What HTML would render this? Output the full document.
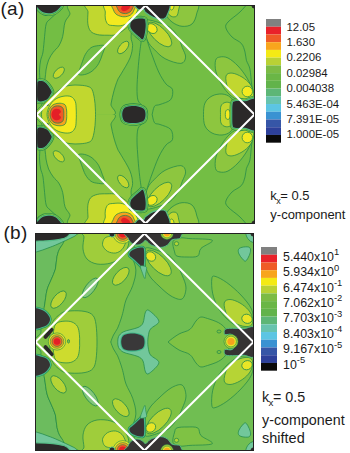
<!DOCTYPE html>
<html><head><meta charset="utf-8">
<style>
html,body{margin:0;padding:0;background:#fff;}
body{width:350px;height:453px;overflow:hidden;position:relative;}
svg{position:absolute;left:0;top:0;}
text{font-family:"Liberation Sans",sans-serif;fill:#1a1a1a;}
</style></head>
<body>
<svg width="350" height="453" viewBox="0 0 350 453">
<defs>
  <clipPath id="ca"><rect x="36" y="5" width="219" height="219"/></clipPath>
  <clipPath id="caT"><rect x="30" y="0" width="230" height="114.5"/></clipPath>
  <clipPath id="cbT"><rect x="30" y="0" width="230" height="114"/></clipPath>
  <clipPath id="cb"><rect x="35" y="233" width="219" height="218"/></clipPath>
</defs>
<rect width="350" height="453" fill="#fff"/>

<!-- labels -->
<text x="0.4" y="15.0" font-size="19" letter-spacing="0.4">(a)</text>
<text x="3.4" y="239.3" font-size="19" letter-spacing="0.4">(b)</text>

<!-- PLOT A -->
<g clip-path="url(#ca)">
<g>
<rect x="30" y="0" width="230" height="230" fill="#73be44"/>
<g id="aTop" clip-path="url(#caT)"><path d="M73.0 3.0 C61.8 4.9 71.1 11.2 69.8 14.4 C68.5 17.6 66.2 18.6 65.0 22.3 C63.8 26.0 63.7 32.5 62.7 36.4 C61.7 40.3 60.4 43.3 58.8 45.9 C57.2 48.5 55.0 49.8 53.3 52.1 C51.6 54.5 49.8 57.0 48.6 60.0 C47.4 63.0 46.6 66.8 46.0 70.0 C45.4 73.2 45.8 75.7 45.0 79.0 C44.2 82.3 41.5 85.8 41.0 90.0 C40.5 94.2 42.3 99.7 42.0 104.0 C41.7 108.3 27.7 114.0 39.0 116.0 C50.3 118.0 98.0 118.0 110.0 116.0 C122.0 114.0 110.3 108.2 111.0 104.1 C111.7 99.9 112.8 95.1 113.9 91.1 C115.0 87.1 116.4 82.9 117.6 80.0 C118.8 77.1 119.1 77.5 121.2 73.8 C123.3 70.1 128.1 62.7 130.0 58.0 C131.9 53.3 132.4 49.1 132.6 45.6 C132.8 42.1 130.9 40.9 131.0 37.0 C131.1 33.1 132.0 27.7 133.0 22.0 C134.0 16.3 147.0 6.2 137.0 3.0 C127.0 -0.2 84.2 1.1 73.0 3.0Z" fill="#8dc63f" stroke="#23894a" stroke-width="0.75"/>
<path d="M58.0 12.0 C56.7 13.2 52.1 17.1 50.1 19.1 C48.1 21.1 47.1 21.0 46.2 23.9 C45.3 26.8 45.1 31.7 44.6 36.4 C44.1 41.1 43.6 48.1 43.0 52.0 C42.4 55.9 41.3 57.0 40.7 60.0 C40.1 63.0 39.6 66.7 39.5 70.0 C39.4 73.3 39.9 78.3 40.0 80.0" fill="none" stroke="#23894a" stroke-width="0.75"/>
<path d="M141.5 39.4 C141.2 41.6 140.3 47.5 139.7 52.6 C139.1 57.8 138.4 64.4 138.0 70.3 C137.6 76.2 137.0 83.0 137.0 88.0 C137.0 93.0 137.1 97.4 138.0 100.3 C138.9 103.2 141.7 104.7 142.4 105.6" fill="none" stroke="#23894a" stroke-width="0.75"/>
<path d="M146.8 39.4 C147.5 41.6 149.2 47.2 151.2 52.6 C153.2 58.0 156.2 66.8 158.7 72.0 C161.2 77.2 163.7 81.1 166.0 84.0 C168.3 86.9 171.6 86.7 172.4 89.3 C173.2 91.9 172.8 97.1 170.7 99.6 C168.6 102.1 162.7 103.4 160.0 104.5 C157.3 105.6 155.8 104.5 154.4 106.4 C153.1 108.3 152.3 114.4 151.9 116.0" fill="none" stroke="#23894a" stroke-width="0.75"/>
<path d="M248.0 3.0 C246.7 4.5 243.3 8.8 240.0 12.0 C236.7 15.2 230.3 19.3 228.0 22.0 C225.7 24.7 225.2 25.5 225.9 28.0 C226.6 30.5 229.4 34.4 232.0 37.0 C234.6 39.6 239.1 40.9 241.3 43.4 C243.5 45.9 244.2 49.2 245.0 52.0 C245.8 54.8 245.6 57.5 246.4 60.3 C247.2 63.1 249.0 64.9 249.9 68.9 C250.8 72.9 251.0 80.3 251.6 84.3 C252.2 88.3 253.0 91.5 253.3 93.0" fill="none" stroke="#23894a" stroke-width="0.75"/>
<path d="M78.3 74.2 C77.6 73.1 79.6 69.8 80.2 68.0 C80.8 66.2 80.9 65.6 81.8 63.3 C82.7 61.0 83.9 56.9 85.4 54.3 C86.9 51.7 88.8 49.2 91.0 47.7 C93.2 46.2 96.3 45.9 98.6 45.6 C100.9 45.3 104.2 44.7 104.8 46.1 C105.4 47.5 103.4 51.4 102.4 54.3 C101.4 57.2 100.3 60.9 98.6 63.7 C96.9 66.5 94.4 69.4 92.0 71.2 C89.6 73.0 86.7 74.1 84.4 74.6 C82.1 75.1 79.0 75.3 78.3 74.2Z" fill="#73be44" stroke="#23894a" stroke-width="0.75"/>
<ellipse cx="58.8" cy="72.7" rx="7.0" ry="3.6" transform="rotate(-45.0 58.8 72.7)" fill="#c1d72f" stroke="#23894a" stroke-width="0.75"/>
<ellipse cx="123.2" cy="47.5" rx="7.5" ry="3.8" transform="rotate(-50.0 123.2 47.5)" fill="#c1d72f" stroke="#23894a" stroke-width="0.75"/>
<path d="M88.2 3.0 C80.0 4.5 88.1 8.6 88.0 12.0 C87.9 15.4 87.4 20.2 87.8 23.4 C88.2 26.6 89.0 29.3 90.6 31.2 C92.2 33.1 94.7 33.9 97.4 34.6 C100.1 35.3 103.9 35.2 107.0 35.2 C110.1 35.2 112.9 35.7 116.0 34.6 C119.1 33.5 122.7 30.9 125.6 28.6 C128.5 26.3 131.6 23.1 133.4 20.7 C135.2 18.3 135.9 17.4 136.6 14.4 C137.3 11.5 145.6 4.9 137.5 3.0 C129.4 1.1 96.5 1.5 88.2 3.0Z" fill="#c1d72f" stroke="#23894a" stroke-width="0.75"/>
<path d="M105.8 3.0 C100.6 4.5 105.4 9.3 105.3 12.0 C105.2 14.7 104.9 16.9 105.4 19.0 C105.9 21.1 106.7 23.3 108.1 24.4 C109.5 25.5 111.6 25.4 114.0 25.6 C116.4 25.8 119.4 26.2 122.4 25.4 C125.4 24.6 129.7 22.5 131.9 20.7 C134.1 18.9 135.0 17.4 135.8 14.4 C136.6 11.5 141.5 4.9 136.5 3.0 C131.5 1.1 111.0 1.5 105.8 3.0Z" fill="#f3ea1f" stroke="#23894a" stroke-width="0.75"/>
<path d="M113.0 3.0 C109.5 4.2 112.8 8.0 113.5 10.0 C114.2 12.0 115.2 13.7 117.0 14.8 C118.8 15.9 121.8 16.8 124.0 16.8 C126.2 16.8 128.8 16.1 130.5 15.0 C132.2 13.9 133.3 12.0 134.0 10.0 C134.7 8.0 138.0 4.2 134.5 3.0 C131.0 1.8 116.5 1.8 113.0 3.0Z" fill="#f6a31e" stroke="#23894a" stroke-width="0.75"/>
<path d="M117.0 3.0 C114.5 3.9 116.9 6.9 117.5 8.5 C118.1 10.1 119.2 11.7 120.5 12.5 C121.8 13.3 123.9 13.7 125.5 13.6 C127.1 13.5 128.8 12.9 130.0 12.0 C131.2 11.1 132.1 9.5 132.6 8.0 C133.1 6.5 135.4 3.8 132.8 3.0 C130.2 2.2 119.5 2.1 117.0 3.0Z" fill="#ee5a27" stroke="#23894a" stroke-width="0.75"/>
<ellipse cx="125.6" cy="7.6" rx="4.7" ry="3.0" transform="rotate(-25.0 125.6 7.6)" fill="#e41f27"/>
<path d="M146.3 20.2 C148.7 19.1 155.0 21.4 158.9 22.6 C162.8 23.8 166.7 24.9 169.9 27.3 C173.1 29.7 175.9 33.6 178.0 37.0 C180.1 40.4 181.0 44.4 182.3 47.7 C183.6 51.1 185.8 54.5 185.6 57.1 C185.4 59.7 184.3 63.1 180.9 63.4 C177.5 63.7 169.6 61.1 165.1 58.7 C160.6 56.4 157.0 52.2 154.1 49.3 C151.2 46.4 149.5 44.8 147.9 41.4 C146.3 38.0 145.0 32.4 144.7 28.9 C144.4 25.4 143.9 21.2 146.3 20.2Z" fill="#8dc63f" stroke="#23894a" stroke-width="0.75"/>
<ellipse cx="159.5" cy="34.5" rx="16.0" ry="6.8" transform="rotate(45.0 159.5 34.5)" fill="#c1d72f" stroke="#23894a" stroke-width="0.75"/>
<ellipse cx="152.0" cy="28.6" rx="5.6" ry="4.4" transform="rotate(40.0 152.0 28.6)" fill="#f3ea1f" stroke="#23894a" stroke-width="0.75"/>
<path d="M164.0 3.0 C158.9 4.8 164.4 10.8 165.7 14.0 C167.0 17.2 169.3 19.9 172.0 22.0 C174.7 24.1 178.7 26.0 182.0 26.3 C185.3 26.6 189.6 26.1 192.0 24.0 C194.4 21.9 195.9 17.5 196.6 14.0 C197.3 10.5 201.4 4.8 196.0 3.0 C190.6 1.2 169.1 1.2 164.0 3.0Z" fill="#8dc63f" stroke="#23894a" stroke-width="0.75"/>
<path d="M166.0 3.0 C164.0 4.3 165.9 8.8 166.7 11.0 C167.5 13.2 169.4 15.3 171.0 16.2 C172.6 17.1 175.2 17.2 176.5 16.2 C177.8 15.2 178.2 12.2 178.6 10.0 C178.9 7.8 180.7 4.2 178.6 3.0 C176.5 1.8 168.0 1.7 166.0 3.0Z" fill="#c1d72f" stroke="#23894a" stroke-width="0.75"/>
<path d="M169.0 3.0 C168.3 3.8 168.9 6.3 169.3 7.5 C169.7 8.7 170.7 9.9 171.4 10.0 C172.1 10.1 173.2 9.2 173.6 8.0 C174.0 6.8 174.4 3.8 173.6 3.0 C172.8 2.2 169.7 2.2 169.0 3.0Z" fill="#f3ea1f" stroke="#23894a" stroke-width="0.75"/>
<path d="M215.6 60.3 C216.3 57.8 217.9 57.4 220.0 57.0 C222.1 56.6 225.0 56.5 228.0 58.0 C231.0 59.5 234.8 62.7 238.0 66.0 C241.2 69.3 244.6 74.0 247.0 78.0 C249.4 82.0 251.4 86.3 252.5 90.0 C253.6 93.7 253.9 97.9 253.5 100.0 C253.1 102.1 252.2 102.3 250.0 102.5 C247.8 102.7 243.3 102.2 240.0 101.0 C236.7 99.8 233.0 97.7 230.0 95.0 C227.0 92.3 224.3 88.8 222.0 85.0 C219.7 81.2 217.1 76.1 216.0 72.0 C214.9 67.9 214.9 62.8 215.6 60.3Z" fill="#8dc63f" stroke="#23894a" stroke-width="0.75"/>
<path d="M226.0 76.0 C226.7 73.5 229.3 72.9 232.0 73.1 C234.7 73.3 239.0 75.2 242.0 77.0 C245.0 78.8 248.1 81.5 250.0 84.0 C251.9 86.5 253.1 89.7 253.5 92.0 C253.9 94.3 253.8 96.8 252.5 98.0 C251.2 99.2 248.8 99.8 246.0 99.5 C243.2 99.2 239.0 97.9 236.0 96.0 C233.0 94.1 229.7 91.3 228.0 88.0 C226.3 84.7 225.3 78.5 226.0 76.0Z" fill="#c1d72f" stroke="#23894a" stroke-width="0.75"/>
<ellipse cx="247.3" cy="91.5" rx="5.2" ry="5.3" transform="rotate(0.0 247.3 91.5)" fill="#f3ea1f" stroke="#23894a" stroke-width="0.75"/>
<path d="M37.6 4.0 C34.0 4.7 36.9 6.6 38.0 8.0 C39.1 9.4 41.7 11.8 44.0 12.6 C46.3 13.4 49.7 13.4 52.0 12.9 C54.3 12.4 56.7 11.0 58.0 9.5 C59.3 8.0 63.2 4.9 59.8 4.0 C56.4 3.1 41.2 3.3 37.6 4.0Z" fill="none" stroke="#23894a" stroke-width="5.4" stroke-linejoin="round"/>
<path d="M37.6 4.0 C34.0 4.7 36.9 6.6 38.0 8.0 C39.1 9.4 41.7 11.8 44.0 12.6 C46.3 13.4 49.7 13.4 52.0 12.9 C54.3 12.4 56.7 11.0 58.0 9.5 C59.3 8.0 63.2 4.9 59.8 4.0 C56.4 3.1 41.2 3.3 37.6 4.0Z" fill="none" stroke="#78c045" stroke-width="4.2" stroke-linejoin="round"/>
<path d="M37.6 4.0 C34.0 4.7 36.9 6.6 38.0 8.0 C39.1 9.4 41.7 11.8 44.0 12.6 C46.3 13.4 49.7 13.4 52.0 12.9 C54.3 12.4 56.7 11.0 58.0 9.5 C59.3 8.0 63.2 4.9 59.8 4.0 C56.4 3.1 41.2 3.3 37.6 4.0Z" fill="none" stroke="#2f9a55" stroke-width="2.4" stroke-linejoin="round"/>
<path d="M37.6 4.0 C34.0 4.7 36.9 6.6 38.0 8.0 C39.1 9.4 41.7 11.8 44.0 12.6 C46.3 13.4 49.7 13.4 52.0 12.9 C54.3 12.4 56.7 11.0 58.0 9.5 C59.3 8.0 63.2 4.9 59.8 4.0 C56.4 3.1 41.2 3.3 37.6 4.0Z" fill="none" stroke="#55bd86" stroke-width="1.8" stroke-linejoin="round"/>
<path d="M37.6 4.0 C34.0 4.7 36.9 6.6 38.0 8.0 C39.1 9.4 41.7 11.8 44.0 12.6 C46.3 13.4 49.7 13.4 52.0 12.9 C54.3 12.4 56.7 11.0 58.0 9.5 C59.3 8.0 63.2 4.9 59.8 4.0 C56.4 3.1 41.2 3.3 37.6 4.0Z" fill="#2b2929"/>
<path d="M37.3 84.0 C37.5 81.2 37.5 81.8 38.5 81.3 C39.5 80.8 41.5 80.8 43.0 81.3 C44.5 81.8 45.8 82.8 47.2 84.5 C48.6 86.2 51.0 89.6 51.5 91.3 C52.0 93.0 51.2 93.2 50.5 94.5 C49.8 95.8 48.6 98.1 47.2 99.2 C45.8 100.3 43.5 100.9 42.0 101.2 C40.5 101.5 39.1 101.5 38.3 101.0 C37.5 100.5 37.4 100.8 37.2 98.0 C37.0 95.2 37.1 86.8 37.3 84.0Z" fill="none" stroke="#23894a" stroke-width="5.4" stroke-linejoin="round"/>
<path d="M37.3 84.0 C37.5 81.2 37.5 81.8 38.5 81.3 C39.5 80.8 41.5 80.8 43.0 81.3 C44.5 81.8 45.8 82.8 47.2 84.5 C48.6 86.2 51.0 89.6 51.5 91.3 C52.0 93.0 51.2 93.2 50.5 94.5 C49.8 95.8 48.6 98.1 47.2 99.2 C45.8 100.3 43.5 100.9 42.0 101.2 C40.5 101.5 39.1 101.5 38.3 101.0 C37.5 100.5 37.4 100.8 37.2 98.0 C37.0 95.2 37.1 86.8 37.3 84.0Z" fill="none" stroke="#78c045" stroke-width="4.2" stroke-linejoin="round"/>
<path d="M37.3 84.0 C37.5 81.2 37.5 81.8 38.5 81.3 C39.5 80.8 41.5 80.8 43.0 81.3 C44.5 81.8 45.8 82.8 47.2 84.5 C48.6 86.2 51.0 89.6 51.5 91.3 C52.0 93.0 51.2 93.2 50.5 94.5 C49.8 95.8 48.6 98.1 47.2 99.2 C45.8 100.3 43.5 100.9 42.0 101.2 C40.5 101.5 39.1 101.5 38.3 101.0 C37.5 100.5 37.4 100.8 37.2 98.0 C37.0 95.2 37.1 86.8 37.3 84.0Z" fill="none" stroke="#2f9a55" stroke-width="2.4" stroke-linejoin="round"/>
<path d="M37.3 84.0 C37.5 81.2 37.5 81.8 38.5 81.3 C39.5 80.8 41.5 80.8 43.0 81.3 C44.5 81.8 45.8 82.8 47.2 84.5 C48.6 86.2 51.0 89.6 51.5 91.3 C52.0 93.0 51.2 93.2 50.5 94.5 C49.8 95.8 48.6 98.1 47.2 99.2 C45.8 100.3 43.5 100.9 42.0 101.2 C40.5 101.5 39.1 101.5 38.3 101.0 C37.5 100.5 37.4 100.8 37.2 98.0 C37.0 95.2 37.1 86.8 37.3 84.0Z" fill="none" stroke="#55bd86" stroke-width="1.8" stroke-linejoin="round"/>
<path d="M37.3 84.0 C37.5 81.2 37.5 81.8 38.5 81.3 C39.5 80.8 41.5 80.8 43.0 81.3 C44.5 81.8 45.8 82.8 47.2 84.5 C48.6 86.2 51.0 89.6 51.5 91.3 C52.0 93.0 51.2 93.2 50.5 94.5 C49.8 95.8 48.6 98.1 47.2 99.2 C45.8 100.3 43.5 100.9 42.0 101.2 C40.5 101.5 39.1 101.5 38.3 101.0 C37.5 100.5 37.4 100.8 37.2 98.0 C37.0 95.2 37.1 86.8 37.3 84.0Z" fill="#2b2929"/>
<path d="M132.4 20.2 C134.5 18.6 141.4 18.3 143.6 18.8 C145.8 19.3 145.3 21.0 145.6 23.0 C145.9 25.0 145.6 28.3 145.2 31.0 C144.8 33.7 143.9 38.0 143.0 39.0 C142.1 40.0 141.5 38.8 139.5 37.0 C137.5 35.2 132.0 31.1 130.8 28.3 C129.6 25.5 130.3 21.8 132.4 20.2Z" fill="none" stroke="#23894a" stroke-width="5.4" stroke-linejoin="round"/>
<path d="M132.4 20.2 C134.5 18.6 141.4 18.3 143.6 18.8 C145.8 19.3 145.3 21.0 145.6 23.0 C145.9 25.0 145.6 28.3 145.2 31.0 C144.8 33.7 143.9 38.0 143.0 39.0 C142.1 40.0 141.5 38.8 139.5 37.0 C137.5 35.2 132.0 31.1 130.8 28.3 C129.6 25.5 130.3 21.8 132.4 20.2Z" fill="none" stroke="#78c045" stroke-width="4.2" stroke-linejoin="round"/>
<path d="M132.4 20.2 C134.5 18.6 141.4 18.3 143.6 18.8 C145.8 19.3 145.3 21.0 145.6 23.0 C145.9 25.0 145.6 28.3 145.2 31.0 C144.8 33.7 143.9 38.0 143.0 39.0 C142.1 40.0 141.5 38.8 139.5 37.0 C137.5 35.2 132.0 31.1 130.8 28.3 C129.6 25.5 130.3 21.8 132.4 20.2Z" fill="none" stroke="#2f9a55" stroke-width="2.4" stroke-linejoin="round"/>
<path d="M132.4 20.2 C134.5 18.6 141.4 18.3 143.6 18.8 C145.8 19.3 145.3 21.0 145.6 23.0 C145.9 25.0 145.6 28.3 145.2 31.0 C144.8 33.7 143.9 38.0 143.0 39.0 C142.1 40.0 141.5 38.8 139.5 37.0 C137.5 35.2 132.0 31.1 130.8 28.3 C129.6 25.5 130.3 21.8 132.4 20.2Z" fill="none" stroke="#55bd86" stroke-width="1.8" stroke-linejoin="round"/>
<path d="M132.4 20.2 C134.5 18.6 141.4 18.3 143.6 18.8 C145.8 19.3 145.3 21.0 145.6 23.0 C145.9 25.0 145.6 28.3 145.2 31.0 C144.8 33.7 143.9 38.0 143.0 39.0 C142.1 40.0 141.5 38.8 139.5 37.0 C137.5 35.2 132.0 31.1 130.8 28.3 C129.6 25.5 130.3 21.8 132.4 20.2Z" fill="#2b2929"/>
<path d="M135.5 3.0 C130.1 3.7 135.1 5.9 135.7 7.0 C136.3 8.1 137.7 9.3 139.0 9.7 C140.3 10.1 142.5 9.0 143.6 9.5 C144.7 10.0 144.0 11.2 145.7 12.6 C147.4 13.9 150.6 16.5 153.6 17.6 C156.6 18.7 161.3 19.4 163.6 19.0 C165.8 18.6 166.4 18.1 167.1 15.4 C167.8 12.7 173.2 5.1 167.9 3.0 C162.6 0.9 140.9 2.3 135.5 3.0Z" fill="#2b2929" stroke="#55bd86" stroke-width="1.2"/>
<ellipse cx="254.5" cy="5.0" rx="3.0" ry="3.5" transform="rotate(0.0 254.5 5.0)" fill="#2b2929"/></g>
<use href="#aTop" transform="translate(0,229) scale(1,-1)"/>
<g transform="translate(0,0)"><path d="M44.0 104.0 C45.7 101.7 49.0 98.7 52.0 96.0 C55.0 93.3 59.0 89.8 62.0 88.0 C65.0 86.2 67.0 85.9 70.0 85.4 C73.0 84.9 77.0 85.0 80.0 85.2 C83.0 85.4 86.0 85.8 88.0 86.5 C90.0 87.2 90.9 87.5 92.0 89.5 C93.1 91.5 93.9 95.5 94.4 98.6 C95.0 101.7 95.1 105.2 95.3 107.9 C95.5 110.6 95.5 112.3 95.5 114.5 C95.5 116.7 95.5 118.4 95.3 121.1 C95.1 123.8 95.0 127.3 94.4 130.4 C93.9 133.5 93.1 137.5 92.0 139.5 C90.9 141.5 90.0 141.8 88.0 142.5 C86.0 143.2 83.0 143.6 80.0 143.8 C77.0 144.0 73.0 144.1 70.0 143.6 C67.0 143.1 65.0 142.8 62.0 141.0 C59.0 139.2 55.0 135.7 52.0 133.0 C49.0 130.3 45.7 127.3 44.0 125.0 C42.3 122.7 42.4 120.8 42.0 119.0 C41.6 117.2 41.5 116.0 41.5 114.5 C41.5 113.0 41.6 111.8 42.0 110.0 C42.4 108.2 42.3 106.3 44.0 104.0Z" fill="#c1d72f" stroke="#23894a" stroke-width="0.75"/>
<path d="M47.0 114.5 C47.0 111.7 48.2 108.5 49.5 106.0 C50.8 103.5 52.8 101.1 55.0 99.5 C57.2 97.9 60.3 96.8 63.0 96.3 C65.7 95.8 69.0 95.7 71.0 96.6 C73.0 97.5 74.4 99.4 75.3 101.5 C76.2 103.6 76.0 106.8 76.2 109.0 C76.4 111.2 76.3 112.7 76.3 114.5 C76.3 116.3 76.4 117.8 76.2 120.0 C76.0 122.2 76.2 125.4 75.3 127.5 C74.4 129.6 73.0 131.5 71.0 132.4 C69.0 133.3 65.7 133.2 63.0 132.7 C60.3 132.2 57.2 131.1 55.0 129.5 C52.8 127.9 50.8 125.5 49.5 123.0 C48.2 120.5 47.0 117.3 47.0 114.5Z" fill="#f3ea1f" stroke="#23894a" stroke-width="0.75"/>
<path d="M48.0 114.5 C48.0 112.3 49.0 109.7 50.0 108.0 C51.0 106.3 52.3 105.1 54.0 104.3 C55.7 103.5 58.2 103.1 60.0 103.2 C61.8 103.3 63.9 103.7 65.0 104.8 C66.1 105.9 66.3 108.4 66.6 110.0 C66.9 111.6 66.7 113.0 66.7 114.5 C66.7 116.0 66.9 117.4 66.6 119.0 C66.3 120.6 66.1 123.1 65.0 124.2 C63.9 125.3 61.8 125.7 60.0 125.8 C58.2 125.9 55.7 125.5 54.0 124.7 C52.3 123.9 51.0 122.7 50.0 121.0 C49.0 119.3 48.0 116.7 48.0 114.5Z" fill="#f6a31e" stroke="#23894a" stroke-width="0.75"/>
<path d="M50.0 114.5 C50.0 112.7 50.7 110.4 51.5 109.0 C52.3 107.6 53.6 106.7 55.0 106.2 C56.4 105.7 58.7 105.8 60.0 106.1 C61.3 106.4 62.4 107.3 63.0 108.3 C63.6 109.3 63.7 111.0 63.8 112.0 C63.9 113.0 63.8 113.7 63.8 114.5 C63.8 115.3 63.9 116.0 63.8 117.0 C63.7 118.0 63.6 119.7 63.0 120.7 C62.4 121.7 61.3 122.6 60.0 122.9 C58.7 123.2 56.4 123.3 55.0 122.8 C53.6 122.3 52.3 121.4 51.5 120.0 C50.7 118.6 50.0 116.3 50.0 114.5Z" fill="#ee5a27" stroke="#23894a" stroke-width="0.75"/>
<path d="M51.5 114.5 C51.5 113.2 52.2 111.5 53.0 110.5 C53.8 109.5 54.9 109.0 56.0 108.8 C57.1 108.6 58.7 108.9 59.5 109.4 C60.3 109.9 61.1 111.2 61.0 112.0 C60.9 112.8 58.8 113.7 58.8 114.5 C58.8 115.3 60.9 116.2 61.0 117.0 C61.1 117.8 60.3 119.1 59.5 119.6 C58.7 120.1 57.1 120.4 56.0 120.2 C54.9 120.0 53.8 119.5 53.0 118.5 C52.2 117.5 51.5 115.8 51.5 114.5Z" fill="#e41f27"/>
<ellipse cx="47.6" cy="104.8" rx="1.1" ry="1.3" transform="rotate(0.0 47.6 104.8)" fill="#3c6e3c"/>
<ellipse cx="47.6" cy="124.2" rx="1.1" ry="1.3" transform="rotate(0.0 47.6 124.2)" fill="#3c6e3c"/>
<path d="M203.5 114.5 C203.5 110.7 203.6 106.1 205.0 103.0 C206.4 99.9 209.2 97.5 212.0 96.0 C214.8 94.5 219.0 93.8 222.0 94.0 C225.0 94.2 228.0 95.3 230.0 97.0 C232.0 98.7 233.2 101.1 233.9 104.0 C234.7 106.9 234.5 111.0 234.5 114.5 C234.5 118.0 234.7 122.1 233.9 125.0 C233.2 127.9 232.0 130.3 230.0 132.0 C228.0 133.7 225.0 134.8 222.0 135.0 C219.0 135.2 214.8 134.5 212.0 133.0 C209.2 131.5 206.4 129.1 205.0 126.0 C203.6 122.9 203.5 118.3 203.5 114.5Z" fill="#8dc63f" stroke="#23894a" stroke-width="0.75"/>
<path d="M220.5 114.5 C220.5 111.7 220.2 108.0 221.0 106.0 C221.8 104.0 223.5 103.0 225.0 102.5 C226.5 102.0 228.5 102.1 230.0 103.0 C231.5 103.9 233.2 106.1 233.9 108.0 C234.6 109.9 234.2 112.3 234.2 114.5 C234.2 116.7 234.6 119.1 233.9 121.0 C233.2 122.9 231.5 125.1 230.0 126.0 C228.5 126.9 226.5 127.0 225.0 126.5 C223.5 126.0 221.8 125.0 221.0 123.0 C220.2 121.0 220.5 117.3 220.5 114.5Z" fill="#c1d72f" stroke="#23894a" stroke-width="0.75"/>
<ellipse cx="227.8" cy="114.5" rx="2.5" ry="4.9" transform="rotate(0.0 227.8 114.5)" fill="#f3ea1f" stroke="#23894a" stroke-width="0.75"/>
<path d="M122.2 114.6 C122.2 112.6 122.7 109.9 124.0 108.5 C125.3 107.1 127.7 106.6 130.0 106.3 C132.3 106.0 135.7 106.0 138.0 106.5 C140.3 107.0 142.8 107.7 144.0 109.0 C145.2 110.3 145.5 112.7 145.5 114.6 C145.5 116.5 145.2 118.8 144.0 120.2 C142.8 121.6 140.3 122.2 138.0 122.7 C135.7 123.2 132.3 123.2 130.0 122.9 C127.7 122.6 125.3 122.1 124.0 120.7 C122.7 119.3 122.2 116.6 122.2 114.6Z" fill="none" stroke="#23894a" stroke-width="5.4" stroke-linejoin="round"/>
<path d="M122.2 114.6 C122.2 112.6 122.7 109.9 124.0 108.5 C125.3 107.1 127.7 106.6 130.0 106.3 C132.3 106.0 135.7 106.0 138.0 106.5 C140.3 107.0 142.8 107.7 144.0 109.0 C145.2 110.3 145.5 112.7 145.5 114.6 C145.5 116.5 145.2 118.8 144.0 120.2 C142.8 121.6 140.3 122.2 138.0 122.7 C135.7 123.2 132.3 123.2 130.0 122.9 C127.7 122.6 125.3 122.1 124.0 120.7 C122.7 119.3 122.2 116.6 122.2 114.6Z" fill="none" stroke="#78c045" stroke-width="4.2" stroke-linejoin="round"/>
<path d="M122.2 114.6 C122.2 112.6 122.7 109.9 124.0 108.5 C125.3 107.1 127.7 106.6 130.0 106.3 C132.3 106.0 135.7 106.0 138.0 106.5 C140.3 107.0 142.8 107.7 144.0 109.0 C145.2 110.3 145.5 112.7 145.5 114.6 C145.5 116.5 145.2 118.8 144.0 120.2 C142.8 121.6 140.3 122.2 138.0 122.7 C135.7 123.2 132.3 123.2 130.0 122.9 C127.7 122.6 125.3 122.1 124.0 120.7 C122.7 119.3 122.2 116.6 122.2 114.6Z" fill="none" stroke="#2f9a55" stroke-width="2.4" stroke-linejoin="round"/>
<path d="M122.2 114.6 C122.2 112.6 122.7 109.9 124.0 108.5 C125.3 107.1 127.7 106.6 130.0 106.3 C132.3 106.0 135.7 106.0 138.0 106.5 C140.3 107.0 142.8 107.7 144.0 109.0 C145.2 110.3 145.5 112.7 145.5 114.6 C145.5 116.5 145.2 118.8 144.0 120.2 C142.8 121.6 140.3 122.2 138.0 122.7 C135.7 123.2 132.3 123.2 130.0 122.9 C127.7 122.6 125.3 122.1 124.0 120.7 C122.7 119.3 122.2 116.6 122.2 114.6Z" fill="none" stroke="#55bd86" stroke-width="1.8" stroke-linejoin="round"/>
<path d="M122.2 114.6 C122.2 112.6 122.7 109.9 124.0 108.5 C125.3 107.1 127.7 106.6 130.0 106.3 C132.3 106.0 135.7 106.0 138.0 106.5 C140.3 107.0 142.8 107.7 144.0 109.0 C145.2 110.3 145.5 112.7 145.5 114.6 C145.5 116.5 145.2 118.8 144.0 120.2 C142.8 121.6 140.3 122.2 138.0 122.7 C135.7 123.2 132.3 123.2 130.0 122.9 C127.7 122.6 125.3 122.1 124.0 120.7 C122.7 119.3 122.2 116.6 122.2 114.6Z" fill="#2b2929"/>
<path d="M232.6 104.0 C233.0 101.8 232.9 101.8 235.0 101.3 C237.1 100.8 241.5 101.3 245.0 101.2 C248.5 101.1 254.2 96.0 256.0 100.5 C257.8 105.0 257.8 124.0 256.0 128.5 C254.2 133.1 248.5 127.9 245.0 127.8 C241.5 127.7 237.1 128.2 235.0 127.7 C232.9 127.2 233.0 127.2 232.6 125.0 C232.2 122.8 232.3 118.0 232.3 114.5 C232.3 111.0 232.2 106.2 232.6 104.0Z" fill="none" stroke="#23894a" stroke-width="5.4" stroke-linejoin="round"/>
<path d="M232.6 104.0 C233.0 101.8 232.9 101.8 235.0 101.3 C237.1 100.8 241.5 101.3 245.0 101.2 C248.5 101.1 254.2 96.0 256.0 100.5 C257.8 105.0 257.8 124.0 256.0 128.5 C254.2 133.1 248.5 127.9 245.0 127.8 C241.5 127.7 237.1 128.2 235.0 127.7 C232.9 127.2 233.0 127.2 232.6 125.0 C232.2 122.8 232.3 118.0 232.3 114.5 C232.3 111.0 232.2 106.2 232.6 104.0Z" fill="none" stroke="#78c045" stroke-width="4.2" stroke-linejoin="round"/>
<path d="M232.6 104.0 C233.0 101.8 232.9 101.8 235.0 101.3 C237.1 100.8 241.5 101.3 245.0 101.2 C248.5 101.1 254.2 96.0 256.0 100.5 C257.8 105.0 257.8 124.0 256.0 128.5 C254.2 133.1 248.5 127.9 245.0 127.8 C241.5 127.7 237.1 128.2 235.0 127.7 C232.9 127.2 233.0 127.2 232.6 125.0 C232.2 122.8 232.3 118.0 232.3 114.5 C232.3 111.0 232.2 106.2 232.6 104.0Z" fill="none" stroke="#2f9a55" stroke-width="2.4" stroke-linejoin="round"/>
<path d="M232.6 104.0 C233.0 101.8 232.9 101.8 235.0 101.3 C237.1 100.8 241.5 101.3 245.0 101.2 C248.5 101.1 254.2 96.0 256.0 100.5 C257.8 105.0 257.8 124.0 256.0 128.5 C254.2 133.1 248.5 127.9 245.0 127.8 C241.5 127.7 237.1 128.2 235.0 127.7 C232.9 127.2 233.0 127.2 232.6 125.0 C232.2 122.8 232.3 118.0 232.3 114.5 C232.3 111.0 232.2 106.2 232.6 104.0Z" fill="none" stroke="#55bd86" stroke-width="1.8" stroke-linejoin="round"/>
<path d="M232.6 104.0 C233.0 101.8 232.9 101.8 235.0 101.3 C237.1 100.8 241.5 101.3 245.0 101.2 C248.5 101.1 254.2 96.0 256.0 100.5 C257.8 105.0 257.8 124.0 256.0 128.5 C254.2 133.1 248.5 127.9 245.0 127.8 C241.5 127.7 237.1 128.2 235.0 127.7 C232.9 127.2 233.0 127.2 232.6 125.0 C232.2 122.8 232.3 118.0 232.3 114.5 C232.3 111.0 232.2 106.2 232.6 104.0Z" fill="#2b2929"/></g>
</g></g>
<g fill="none" stroke="#fff" stroke-width="2">
  <path d="M145.5 5.5 L254.5 114.5 L145.5 223.5 L36.5 114.5 Z"/>
</g>
<rect x="36.5" y="5.5" width="218" height="218" fill="none" stroke="#222" stroke-width="1"/>

<!-- PLOT B -->
<g clip-path="url(#cb)">
<g transform="translate(-1,228)">
<rect x="30" y="0" width="230" height="230" fill="#70be52"/>
<g id="bTop" clip-path="url(#cbT)"><path d="M30.0 3.0 C38.0 -10.2 72.5 0.6 78.0 3.0 C83.5 5.4 66.0 13.3 62.7 17.6 C59.4 21.9 59.0 24.7 58.0 28.6 C57.0 32.5 57.4 37.2 56.4 41.1 C55.4 45.0 53.4 48.5 52.0 52.0 C50.6 55.5 49.1 57.8 48.0 62.0 C46.9 66.2 46.3 73.7 45.6 77.0 C44.9 80.3 46.6 81.2 44.0 82.0 C41.4 82.8 32.3 95.2 30.0 82.0 C27.7 68.8 22.0 16.2 30.0 3.0Z" fill="#6cbc5e" stroke="#23894a" stroke-width="0.75"/>
<path d="M78.0 3.0 C65.6 5.4 66.0 13.3 62.7 17.6 C59.4 21.9 59.0 24.7 58.0 28.6 C57.0 32.5 57.4 37.2 56.4 41.1 C55.4 45.0 53.4 48.5 52.0 52.0 C50.6 55.5 49.1 57.8 48.0 62.0 C46.9 66.2 46.3 73.3 45.6 77.0 C44.9 80.7 44.8 81.5 44.0 84.0 C43.2 86.5 41.3 88.7 41.0 92.0 C40.7 95.3 42.3 100.0 42.0 104.0 C41.7 108.0 27.4 114.0 39.0 116.0 C50.6 118.0 99.7 116.3 111.8 116.0 C123.9 115.7 111.3 115.5 111.8 114.0 C112.2 112.5 113.4 109.3 114.5 107.0 C115.6 104.7 117.3 102.9 118.6 100.2 C119.8 97.5 121.1 93.8 122.0 91.0 C122.9 88.2 123.4 86.5 124.2 83.3 C125.0 80.1 125.4 76.3 127.0 72.0 C128.6 67.7 132.0 62.7 133.7 57.7 C135.3 52.7 137.0 47.5 136.9 42.0 C136.8 36.5 133.0 31.5 133.0 25.0 C133.0 18.5 146.2 6.7 137.0 3.0 C127.8 -0.7 90.4 0.6 78.0 3.0Z" fill="#7fc244" stroke="#23894a" stroke-width="0.75"/>
<path d="M30.0 3.0 C38.0 -0.5 70.2 2.3 78.0 3.0 C85.8 3.7 77.8 5.9 77.0 7.0 C76.2 8.1 76.0 8.0 73.0 9.5 C70.0 11.0 63.0 14.2 59.0 16.0 C55.0 17.8 52.4 18.8 49.0 20.0 C45.6 21.2 42.0 22.8 38.8 23.5 C35.6 24.2 31.5 27.4 30.0 24.0 C28.5 20.6 22.0 6.5 30.0 3.0Z" fill="#72c79b" stroke="#23894a" stroke-width="0.75"/>
<ellipse cx="91.2" cy="59.9" rx="11.8" ry="4.6" transform="rotate(-53.0 91.2 59.9)" fill="#84c77a" stroke="#23894a" stroke-width="0.75"/>
<ellipse cx="59.5" cy="71.6" rx="10.5" ry="5.0" transform="rotate(-50.0 59.5 71.6)" fill="#b6d435" stroke="#23894a" stroke-width="0.75"/>
<ellipse cx="121.8" cy="48.3" rx="11.0" ry="5.3" transform="rotate(-48.0 121.8 48.3)" fill="#b6d435" stroke="#23894a" stroke-width="0.75"/>
<path d="M85.0 3.0 C77.5 4.0 85.2 6.0 85.0 9.0 C84.8 12.0 83.5 17.3 84.0 21.0 C84.5 24.7 85.7 28.5 88.0 31.0 C90.3 33.5 94.0 35.3 98.0 36.0 C102.0 36.7 108.0 36.2 112.0 35.0 C116.0 33.8 119.3 31.3 122.0 29.0 C124.7 26.7 126.7 23.7 128.0 21.0 C129.3 18.3 129.7 16.0 130.0 13.0 C130.3 10.0 137.5 4.7 130.0 3.0 C122.5 1.3 92.5 2.0 85.0 3.0Z" fill="#9fcd3b" stroke="#23894a" stroke-width="0.75"/>
<path d="M107.0 9.3 C105.5 10.1 104.8 11.1 104.3 12.5 C103.8 13.9 103.1 16.0 103.8 17.8 C104.5 19.6 106.5 22.2 108.6 23.4 C110.7 24.6 114.2 25.3 116.6 25.0 C119.0 24.7 121.3 23.2 123.0 21.5 C124.7 19.8 125.7 16.9 126.5 15.0 C127.3 13.1 128.8 11.3 128.0 10.0 C127.2 8.7 124.5 7.3 122.0 7.0 C119.5 6.7 115.5 7.6 113.0 8.0 C110.5 8.4 108.5 8.6 107.0 9.3Z" fill="#cddc2e" stroke="#23894a" stroke-width="0.75"/>
<circle cx="123.8" cy="5.6" r="9.8" fill="#e9e526" stroke="#23894a" stroke-width="0.6"/>
<circle cx="123.8" cy="5.6" r="7.8" fill="#f6a31e" stroke="#23894a" stroke-width="0.6"/>
<circle cx="123.8" cy="5.6" r="5.8" fill="#ee5a27" stroke="#23894a" stroke-width="0.6"/>
<circle cx="123.8" cy="5.6" r="3.8" fill="#e41f27"/>
<ellipse cx="113.0" cy="5.5" rx="3.0" ry="3.6" transform="rotate(0.0 113.0 5.5)" fill="#2b2929" stroke="#55bd86" stroke-width="1.0"/>
<path d="M146.3 20.2 C148.6 18.6 155.0 21.4 158.9 22.6 C162.8 23.8 166.7 24.9 169.9 27.3 C173.1 29.7 175.8 33.6 178.0 37.0 C180.2 40.4 181.8 43.9 183.3 47.7 C184.8 51.5 187.1 56.1 187.0 60.0 C186.9 63.9 185.5 69.7 183.0 71.0 C180.5 72.3 175.8 70.2 172.0 68.0 C168.2 65.8 163.7 61.5 160.0 58.0 C156.3 54.5 152.5 51.3 150.0 47.0 C147.5 42.7 145.6 36.5 145.0 32.0 C144.4 27.5 144.0 21.8 146.3 20.2Z" fill="#7fc244" stroke="#23894a" stroke-width="0.75"/>
<ellipse cx="159.5" cy="35.0" rx="16.5" ry="7.2" transform="rotate(45.0 159.5 35.0)" fill="#b6d435" stroke="#23894a" stroke-width="0.75"/>
<ellipse cx="151.8" cy="28.5" rx="5.2" ry="4.4" transform="rotate(40.0 151.8 28.5)" fill="#e9e526" stroke="#23894a" stroke-width="0.75"/>
<path d="M174.0 13.5 C174.9 11.2 178.2 10.5 181.0 10.0 C183.8 9.5 185.6 10.2 191.0 10.6 C196.4 11.0 211.5 10.7 213.3 12.3 C215.1 13.9 204.4 17.8 202.0 20.4 C199.6 23.0 201.0 26.7 198.7 28.1 C196.4 29.5 191.4 29.0 188.0 29.0 C184.6 29.0 180.1 29.0 178.0 28.1 C175.9 27.2 176.3 26.3 175.6 23.9 C174.9 21.5 173.1 15.8 174.0 13.5Z" fill="#7fc244" stroke="#23894a" stroke-width="0.75"/>
<ellipse cx="177.5" cy="15.7" rx="2.2" ry="2.0" transform="rotate(0.0 177.5 15.7)" fill="#b6d435" stroke="#23894a" stroke-width="0.75"/>
<path d="M239.5 21.5 C240.0 20.4 241.3 19.7 243.0 19.3 C244.7 18.9 248.1 18.6 249.5 19.0 C250.9 19.4 251.5 20.6 251.6 22.0 C251.7 23.4 251.0 25.7 250.2 27.5 C249.4 29.3 247.9 32.4 246.8 33.0 C245.7 33.6 244.6 32.2 243.5 31.0 C242.4 29.8 240.7 27.6 240.0 26.0 C239.3 24.4 239.0 22.6 239.5 21.5Z" fill="#72c79b" stroke="#23894a" stroke-width="0.75"/>
<path d="M247.4 3.0 C246.0 3.8 247.0 6.5 247.4 8.0 C247.8 9.5 249.1 11.0 250.0 12.0 C250.9 13.0 252.0 13.7 253.0 14.0 C254.0 14.3 255.5 15.8 256.0 14.0 C256.5 12.2 257.4 4.8 256.0 3.0 C254.6 1.2 248.8 2.2 247.4 3.0Z" fill="#72c79b" stroke="#23894a" stroke-width="0.75"/>
<path d="M212.8 51.0 C213.2 48.2 213.5 47.7 216.0 48.3 C218.5 48.9 223.5 51.5 227.8 54.6 C232.1 57.7 237.8 62.6 241.9 67.0 C246.0 71.4 250.4 76.4 252.5 81.1 C254.6 85.8 254.6 92.0 254.5 95.2 C254.4 98.4 254.4 99.4 252.0 100.0 C249.6 100.6 244.0 100.5 240.0 99.0 C236.0 97.5 231.5 94.3 228.0 91.0 C224.5 87.7 221.3 83.7 218.9 79.4 C216.5 75.1 214.6 69.9 213.6 65.2 C212.6 60.5 212.4 53.8 212.8 51.0Z" fill="#7fc244" stroke="#23894a" stroke-width="0.75"/>
<path d="M225.2 75.0 C225.7 72.4 228.4 71.5 231.0 71.5 C233.6 71.5 237.9 73.2 241.0 75.0 C244.1 76.8 247.4 79.5 249.5 82.0 C251.6 84.5 253.0 87.5 253.5 90.0 C254.0 92.5 253.8 95.6 252.5 97.0 C251.2 98.4 248.8 98.8 246.0 98.5 C243.2 98.2 239.0 96.9 236.0 95.0 C233.0 93.1 229.8 90.3 228.0 87.0 C226.2 83.7 224.7 77.6 225.2 75.0Z" fill="#b6d435" stroke="#23894a" stroke-width="0.75"/>
<ellipse cx="248.0" cy="90.8" rx="5.3" ry="4.5" transform="rotate(20.0 248.0 90.8)" fill="#e9e526" stroke="#23894a" stroke-width="0.75"/>
<path d="M118.7 116.0 C113.7 115.8 118.6 116.0 118.7 114.7 C118.8 113.5 118.7 110.3 119.6 108.5 C120.5 106.7 122.1 105.1 124.0 104.0 C125.9 102.9 128.5 102.5 131.0 101.8 C133.5 101.0 136.8 100.6 139.0 99.5 C141.2 98.4 142.8 97.6 144.0 95.0 C145.2 92.4 145.4 86.0 146.5 84.0 C147.6 82.0 148.2 81.2 150.4 82.8 C152.6 84.3 159.7 90.3 159.9 93.3 C160.1 96.3 153.3 98.5 151.5 101.0 C149.7 103.5 149.8 105.7 149.3 108.0 C148.8 110.3 148.8 113.4 148.7 114.7 C148.6 116.0 153.7 115.8 148.7 116.0 C143.7 116.2 123.7 116.2 118.7 116.0Z" fill="#72c79b" stroke="#23894a" stroke-width="0.75"/>
<path d="M169.0 116.0 C169.0 115.7 167.2 115.7 169.0 114.0 C170.8 112.3 176.3 108.1 180.0 106.0 C183.7 103.9 188.1 103.6 190.9 101.4 C193.7 99.2 195.2 95.0 197.0 93.0 C198.8 91.0 199.8 89.5 201.7 89.1 C203.6 88.7 205.6 89.6 208.5 90.5 C211.4 91.4 216.5 93.0 219.4 94.6 C222.3 96.2 224.2 97.8 226.0 100.0 C227.8 102.2 229.3 105.3 230.0 108.0 C230.7 110.7 240.2 114.7 230.0 116.0 C219.8 117.3 179.2 116.0 169.0 116.0 C158.8 116.0 169.0 116.3 169.0 116.0Z" fill="#7fc244" stroke="#23894a" stroke-width="0.75"/>
<path d="M30.0 3.0 C36.8 1.3 63.8 2.3 70.5 3.0 C77.2 3.7 70.8 5.8 70.0 7.0 C69.2 8.2 68.0 9.2 66.0 10.0 C64.0 10.8 61.0 11.3 58.0 11.8 C55.0 12.3 51.0 12.6 48.0 12.8 C45.0 13.0 43.0 13.0 40.0 13.0 C37.0 13.0 31.7 14.7 30.0 13.0 C28.3 11.3 23.2 4.7 30.0 3.0Z" fill="#2b2929" stroke="#55bd86" stroke-width="1.2"/>
<path d="M35.0 81.6 C36.3 78.7 40.8 81.3 43.0 82.0 C45.2 82.7 46.7 84.0 48.0 85.5 C49.3 87.0 50.9 89.2 51.0 91.0 C51.1 92.8 49.9 95.1 48.5 96.5 C47.1 97.9 44.8 98.7 42.5 99.2 C40.2 99.7 36.2 102.3 35.0 99.4 C33.8 96.5 33.7 84.5 35.0 81.6Z" fill="none" stroke="#23894a" stroke-width="3.4" stroke-linejoin="round"/>
<path d="M35.0 81.6 C36.3 78.7 40.8 81.3 43.0 82.0 C45.2 82.7 46.7 84.0 48.0 85.5 C49.3 87.0 50.9 89.2 51.0 91.0 C51.1 92.8 49.9 95.1 48.5 96.5 C47.1 97.9 44.8 98.7 42.5 99.2 C40.2 99.7 36.2 102.3 35.0 99.4 C33.8 96.5 33.7 84.5 35.0 81.6Z" fill="none" stroke="#45b98a" stroke-width="2.4" stroke-linejoin="round"/>
<path d="M35.0 81.6 C36.3 78.7 40.8 81.3 43.0 82.0 C45.2 82.7 46.7 84.0 48.0 85.5 C49.3 87.0 50.9 89.2 51.0 91.0 C51.1 92.8 49.9 95.1 48.5 96.5 C47.1 97.9 44.8 98.7 42.5 99.2 C40.2 99.7 36.2 102.3 35.0 99.4 C33.8 96.5 33.7 84.5 35.0 81.6Z" fill="#363434"/>
<path d="M131.0 24.5 C131.6 23.6 132.5 22.6 134.0 21.8 C135.5 21.0 138.4 20.2 140.0 19.8 C141.6 19.4 143.0 19.2 143.8 19.6 C144.6 20.0 144.8 20.3 145.0 22.0 C145.2 23.7 145.3 27.3 145.2 30.0 C145.1 32.7 145.0 36.8 144.6 38.3 C144.2 39.8 143.7 39.6 143.0 39.3 C142.3 39.0 142.0 38.0 140.5 36.5 C139.0 35.0 135.7 32.0 134.0 30.5 C132.3 29.0 131.1 28.5 130.6 27.5 C130.1 26.5 130.4 25.4 131.0 24.5Z" fill="none" stroke="#23894a" stroke-width="3.4" stroke-linejoin="round"/>
<path d="M131.0 24.5 C131.6 23.6 132.5 22.6 134.0 21.8 C135.5 21.0 138.4 20.2 140.0 19.8 C141.6 19.4 143.0 19.2 143.8 19.6 C144.6 20.0 144.8 20.3 145.0 22.0 C145.2 23.7 145.3 27.3 145.2 30.0 C145.1 32.7 145.0 36.8 144.6 38.3 C144.2 39.8 143.7 39.6 143.0 39.3 C142.3 39.0 142.0 38.0 140.5 36.5 C139.0 35.0 135.7 32.0 134.0 30.5 C132.3 29.0 131.1 28.5 130.6 27.5 C130.1 26.5 130.4 25.4 131.0 24.5Z" fill="none" stroke="#45b98a" stroke-width="2.4" stroke-linejoin="round"/>
<path d="M131.0 24.5 C131.6 23.6 132.5 22.6 134.0 21.8 C135.5 21.0 138.4 20.2 140.0 19.8 C141.6 19.4 143.0 19.2 143.8 19.6 C144.6 20.0 144.8 20.3 145.0 22.0 C145.2 23.7 145.3 27.3 145.2 30.0 C145.1 32.7 145.0 36.8 144.6 38.3 C144.2 39.8 143.7 39.6 143.0 39.3 C142.3 39.0 142.0 38.0 140.5 36.5 C139.0 35.0 135.7 32.0 134.0 30.5 C132.3 29.0 131.1 28.5 130.6 27.5 C130.1 26.5 130.4 25.4 131.0 24.5Z" fill="#363434"/>
<path d="M141.5 38.5 C141.7 37.2 143.5 37.8 144.5 38.0 C145.5 38.2 147.2 38.3 147.6 39.5 C148.0 40.7 147.1 43.1 146.8 45.0 C146.5 46.9 146.4 50.5 145.9 50.6 C145.4 50.7 144.3 47.5 143.6 45.5 C142.9 43.5 141.3 39.8 141.5 38.5Z" fill="#72c79b" stroke="#23894a" stroke-width="0.6"/>
<path d="M128.7 3.0 C119.8 4.2 128.3 7.9 129.0 10.0 C129.7 12.1 131.3 14.3 133.0 15.5 C134.7 16.7 137.2 17.1 139.0 17.0 C140.8 16.9 142.2 15.7 143.5 15.0 C144.8 14.3 145.3 12.3 146.7 12.6 C148.1 12.9 149.7 15.8 151.9 16.9 C154.1 18.0 157.7 19.0 160.0 19.3 C162.3 19.6 164.3 19.1 166.0 18.5 C167.7 17.9 169.0 16.5 170.0 15.5 C171.0 14.5 171.2 13.2 172.0 12.5 C172.8 11.8 173.6 11.6 175.0 11.3 C176.4 11.0 179.2 11.3 180.5 10.6 C181.8 9.9 182.2 8.3 182.5 7.0 C182.8 5.7 191.5 3.7 182.5 3.0 C173.5 2.3 137.6 1.8 128.7 3.0Z" fill="#363434" stroke="#55bd86" stroke-width="1.0"/>
<circle cx="168" cy="5.2" r="6.2" fill="#b6d435" stroke="#23894a" stroke-width="0.6"/>
<circle cx="168" cy="5.2" r="4.7" fill="#e9e526" stroke="#23894a" stroke-width="0.6"/>
<circle cx="168" cy="5.2" r="3.1" fill="#f6a31e"/>
<ellipse cx="254.5" cy="5.0" rx="3.0" ry="3.5" transform="rotate(0.0 254.5 5.0)" fill="#2b2929"/></g>
<use href="#bTop" transform="translate(0,228) scale(1,-1)"/>
<g transform="translate(0,-0.5)"><path d="M62.0 86.0 C65.3 83.4 68.0 83.7 72.0 83.4 C76.0 83.1 82.3 83.2 86.0 84.0 C89.7 84.8 92.2 85.8 94.0 88.0 C95.8 90.2 96.3 92.6 97.0 97.0 C97.7 101.4 98.0 108.7 98.0 114.5 C98.0 120.3 97.7 127.6 97.0 132.0 C96.3 136.4 95.8 138.8 94.0 141.0 C92.2 143.2 89.7 144.2 86.0 145.0 C82.3 145.8 76.0 145.9 72.0 145.6 C68.0 145.3 65.3 145.6 62.0 143.0 C58.7 140.4 53.7 137.3 52.0 130.0 C50.3 122.7 50.3 106.3 52.0 99.0 C53.7 91.7 58.7 88.6 62.0 86.0Z" fill="#9fcd3b" stroke="#23894a" stroke-width="0.75"/>
<path d="M55.0 101.0 C55.7 97.8 56.3 96.7 58.0 95.5 C59.7 94.3 62.5 93.9 65.0 93.7 C67.5 93.5 70.8 93.6 73.0 94.5 C75.2 95.4 77.3 96.9 78.5 99.0 C79.7 101.1 80.1 104.4 80.4 107.0 C80.8 109.6 80.6 112.0 80.6 114.5 C80.6 117.0 80.8 119.4 80.4 122.0 C80.1 124.6 79.7 127.9 78.5 130.0 C77.3 132.1 75.2 133.6 73.0 134.5 C70.8 135.4 67.5 135.5 65.0 135.3 C62.5 135.1 59.7 134.7 58.0 133.5 C56.3 132.3 55.7 131.2 55.0 128.0 C54.3 124.8 54.0 119.0 54.0 114.5 C54.0 110.0 54.3 104.2 55.0 101.0Z" fill="#cddc2e" stroke="#23894a" stroke-width="0.75"/>
<line x1="46.4" y1="109.4" x2="52.6" y2="102.2" stroke="#2b2929" stroke-width="3.8" stroke-linecap="round"/>
<line x1="46.4" y1="119.6" x2="52.6" y2="126.8" stroke="#2b2929" stroke-width="3.8" stroke-linecap="round"/>
<circle cx="58" cy="114" r="8.6" fill="#e9e526" stroke="#23894a" stroke-width="0.6"/>
<circle cx="58" cy="114" r="6.8" fill="#f6a31e" stroke="#23894a" stroke-width="0.6"/>
<circle cx="58" cy="114" r="5.0" fill="#ee5a27" stroke="#23894a" stroke-width="0.6"/>
<circle cx="58" cy="114" r="3.2" fill="#e41f27"/>
<ellipse cx="69.5" cy="113.8" rx="1.0" ry="1.8" transform="rotate(0.0 69.5 113.8)" fill="#7fc244" stroke="#23894a" stroke-width="0.75"/>
<path d="M226.5 101.5 C228.2 100.5 232.9 100.8 236.0 100.8 C239.1 100.8 241.7 101.2 245.0 101.2 C248.3 101.2 254.2 96.5 256.0 101.0 C257.8 105.5 257.8 123.5 256.0 128.0 C254.2 132.5 248.3 127.8 245.0 127.8 C241.7 127.8 239.1 128.2 236.0 128.2 C232.9 128.1 228.2 128.5 226.5 127.5 C224.8 126.5 224.7 122.9 225.8 122.0 C226.9 121.1 230.9 123.2 233.0 122.0 C235.1 120.8 238.5 117.0 238.5 114.5 C238.5 112.0 235.1 108.2 233.0 107.0 C230.9 105.8 226.9 107.9 225.8 107.0 C224.7 106.1 224.8 102.5 226.5 101.5Z" fill="#363434" stroke="#55bd86" stroke-width="1.0"/>
<circle cx="232" cy="114" r="7" fill="#b6d435" stroke="#23894a" stroke-width="0.6"/>
<circle cx="232" cy="114" r="5.4" fill="#e9e526" stroke="#23894a" stroke-width="0.6"/>
<circle cx="232" cy="114" r="3.6" fill="#f6a31e"/>
<ellipse cx="220.0" cy="104.0" rx="2.0" ry="1.5" transform="rotate(0.0 220.0 104.0)" fill="#7fc244" stroke="#23894a" stroke-width="0.75"/>
<ellipse cx="220.0" cy="124.5" rx="2.0" ry="1.5" transform="rotate(0.0 220.0 124.5)" fill="#7fc244" stroke="#23894a" stroke-width="0.75"/>
<path d="M122.2 114.6 C122.2 112.6 122.7 109.9 124.0 108.5 C125.3 107.1 127.7 106.6 130.0 106.3 C132.3 106.0 135.7 106.0 138.0 106.5 C140.3 107.0 142.8 107.7 144.0 109.0 C145.2 110.3 145.5 112.7 145.5 114.6 C145.5 116.5 145.2 118.8 144.0 120.2 C142.8 121.6 140.3 122.2 138.0 122.7 C135.7 123.2 132.3 123.2 130.0 122.9 C127.7 122.6 125.3 122.1 124.0 120.7 C122.7 119.3 122.2 116.6 122.2 114.6Z" fill="#393839" stroke="#3fb88a" stroke-width="2.2"/>
<path d="M122.2 114.6 C122.2 112.6 122.7 109.9 124.0 108.5 C125.3 107.1 127.7 106.6 130.0 106.3 C132.3 106.0 135.7 106.0 138.0 106.5 C140.3 107.0 142.8 107.7 144.0 109.0 C145.2 110.3 145.5 112.7 145.5 114.6 C145.5 116.5 145.2 118.8 144.0 120.2 C142.8 121.6 140.3 122.2 138.0 122.7 C135.7 123.2 132.3 123.2 130.0 122.9 C127.7 122.6 125.3 122.1 124.0 120.7 C122.7 119.3 122.2 116.6 122.2 114.6Z" fill="#393839"/></g>
</g></g>
<g fill="none" stroke="#fff" stroke-width="2">
  <path d="M144.5 233.5 L253.5 342 L144.5 450.5 L35.5 342 Z"/>
</g>
<rect x="35.5" y="233.5" width="218" height="217" fill="none" stroke="#222" stroke-width="1"/>

<!-- LEGEND A -->
<g id="legA">
  <rect x="266" y="19.0" width="15" height="7.73" fill="#808080"/>
  <rect x="266" y="26.73" width="15" height="7.73" fill="#e9212a"/>
  <rect x="266" y="34.46" width="15" height="7.73" fill="#ef5b27"/>
  <rect x="266" y="42.19" width="15" height="7.73" fill="#f8a51d"/>
  <rect x="266" y="49.92" width="15" height="7.73" fill="#f4ea15"/>
  <rect x="266" y="57.65" width="15" height="7.73" fill="#b9d135"/>
  <rect x="266" y="65.38" width="15" height="7.73" fill="#7cbb45"/>
  <rect x="266" y="73.11" width="15" height="7.73" fill="#6ab646"/>
  <rect x="266" y="80.84" width="15" height="7.73" fill="#62b34b"/>
  <rect x="266" y="88.57" width="15" height="7.73" fill="#5db676"/>
  <rect x="266" y="96.30" width="15" height="7.73" fill="#67c3ae"/>
  <rect x="266" y="104.03" width="15" height="7.73" fill="#5cc5e3"/>
  <rect x="266" y="111.76" width="15" height="7.73" fill="#3a92d2"/>
  <rect x="266" y="119.49" width="15" height="7.73" fill="#3656a7"/>
  <rect x="266" y="127.22" width="15" height="7.73" fill="#2d409a"/>
  <rect x="266" y="134.95" width="15" height="7.73" fill="#0a0a0a"/>
</g>
<g font-size="11.4">
  <text x="286.5" y="30.6">12.05</text>
  <text x="286.5" y="46">1.630</text>
  <text x="286.5" y="61.4">0.2206</text>
  <text x="286.5" y="76.8">0.02984</text>
  <text x="286.5" y="92.2">0.004038</text>
  <text x="286.5" y="107.6">5.463E-04</text>
  <text x="286.5" y="123">7.391E-05</text>
  <text x="286.5" y="138.4">1.000E-05</text>
</g>
<text x="270.3" y="200" font-size="13">k<tspan font-size="9" dy="4" dx="-0.6">x</tspan><tspan dy="-4" dx="-0.4">= 0.5</tspan></text>
<text x="270.3" y="219" font-size="13">y-component</text>

<!-- LEGEND B -->
<g id="legB">
  <rect x="261" y="247.0" width="16" height="7.73" fill="#808080"/>
  <rect x="261" y="254.73" width="16" height="7.73" fill="#e9212a"/>
  <rect x="261" y="262.46" width="16" height="7.73" fill="#ef5b27"/>
  <rect x="261" y="270.19" width="16" height="7.73" fill="#f8a51d"/>
  <rect x="261" y="277.92" width="16" height="7.73" fill="#f4ea15"/>
  <rect x="261" y="285.65" width="16" height="7.73" fill="#b9d135"/>
  <rect x="261" y="293.38" width="16" height="7.73" fill="#7cbb45"/>
  <rect x="261" y="301.11" width="16" height="7.73" fill="#6ab646"/>
  <rect x="261" y="308.84" width="16" height="7.73" fill="#62b34b"/>
  <rect x="261" y="316.57" width="16" height="7.73" fill="#5db676"/>
  <rect x="261" y="324.30" width="16" height="7.73" fill="#67c3ae"/>
  <rect x="261" y="332.03" width="16" height="7.73" fill="#5cc5e3"/>
  <rect x="261" y="339.76" width="16" height="7.73" fill="#3a92d2"/>
  <rect x="261" y="347.49" width="16" height="7.73" fill="#3656a7"/>
  <rect x="261" y="355.22" width="16" height="7.73" fill="#2d409a"/>
  <rect x="261" y="362.95" width="16" height="7.73" fill="#0a0a0a"/>
</g>
<g font-size="12.4">
  <text x="283" y="260.8">5.440x10<tspan font-size="9.4" dy="-5.6">1</tspan></text>
  <text x="283" y="276.2">5.934x10<tspan font-size="9.4" dy="-5.6">0</tspan></text>
  <text x="283" y="291.6">6.474x10<tspan font-size="9.4" dy="-5.6">-1</tspan></text>
  <text x="283" y="307">7.062x10<tspan font-size="9.4" dy="-5.6">-2</tspan></text>
  <text x="283" y="322.4">7.703x10<tspan font-size="9.4" dy="-5.6">-3</tspan></text>
  <text x="283" y="337.8">8.403x10<tspan font-size="9.4" dy="-5.6">-4</tspan></text>
  <text x="283" y="353.2">9.167x10<tspan font-size="9.4" dy="-5.6">-5</tspan></text>
  <text x="283" y="368.6">10<tspan font-size="9.4" dy="-5.6">-5</tspan></text>
</g>
<text x="262" y="401.8" font-size="14.3">k<tspan font-size="9.8" dy="4.4" dx="-0.7">x</tspan><tspan dy="-4.4" dx="-0.4">= 0.5</tspan></text>
<text x="262" y="424.6" font-size="14.3">y-component</text>
<text x="262" y="442.8" font-size="14.5">shifted</text>
</svg>
</body></html>
